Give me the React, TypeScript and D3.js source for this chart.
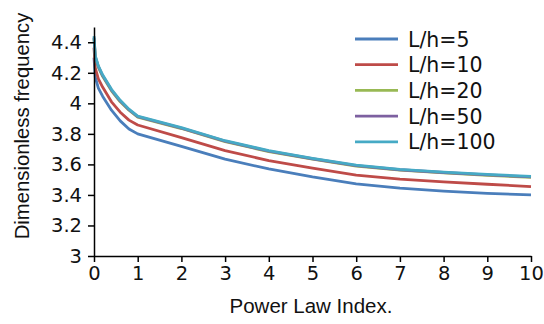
import React, { useEffect, useRef } from 'react';
import * as d3 from 'd3';

// power law index sample points
const xs = [0, 0.03, 0.1, 0.2, 0.4, 0.6, 0.8, 1, 2, 3, 4, 5, 6, 7, 8, 9, 10];

const lh5 = [4.30, 4.17, 4.10, 4.045, 3.955, 3.885, 3.832, 3.80, 3.718, 3.635, 3.57, 3.518, 3.473, 3.444, 3.425, 3.41, 3.40];
const lh10 = [4.365, 4.23, 4.16, 4.105, 4.01, 3.942, 3.89, 3.858, 3.775, 3.69, 3.625, 3.575, 3.53, 3.503, 3.485, 3.47, 3.455];
const lh20 = [4.425, 4.30, 4.235, 4.175, 4.082, 4.01, 3.955, 3.91, 3.835, 3.749, 3.684, 3.634, 3.589, 3.562, 3.544, 3.529, 3.515];
const lh50 = [4.43, 4.305, 4.24, 4.18, 4.087, 4.015, 3.958, 3.913, 3.838, 3.752, 3.687, 3.637, 3.592, 3.565, 3.547, 3.532, 3.518];
const lh100 = [4.44, 4.31, 4.245, 4.185, 4.092, 4.02, 3.962, 3.916, 3.841, 3.755, 3.69, 3.64, 3.595, 3.568, 3.55, 3.535, 3.521];

const seriesNames = ['L/h=5', 'L/h=10', 'L/h=20', 'L/h=50', 'L/h=100'];
const seriesValues = [lh5, lh10, lh20, lh50, lh100];
const colors = ['#4a7ebb', '#be4b48', '#98b954', '#7d60a0', '#46aac5'];

const xTicks = [0, 1, 2, 3, 4, 5, 6, 7, 8, 9, 10];
const yTicks = [3, 3.2, 3.4, 3.6, 3.8, 4, 4.2, 4.4];

const W = 544;
const H = 324;

const App: React.FC = () => {
  const svgRef = useRef<SVGSVGElement>(null);

  useEffect(() => {
    const svg = d3.select(svgRef.current);
    svg.selectAll('*').remove();

    const x = d3.scaleLinear().domain([0, 10]).range([94, 531]);
    const y = d3.scaleLinear().domain([3, 4.5]).range([256, 27]);

    const tickFont = '"DejaVu Sans", sans-serif';
    const labelFont = '"Liberation Sans", Arial, sans-serif';

    // lines
    const line = d3.line<number>()
      .x((_, i) => x(xs[i]))
      .y(d => y(d))
      .curve(d3.curveLinear);

    seriesValues.forEach((vals, i) => {
      svg.append('path')
        .datum(vals)
        .attr('d', line)
        .attr('fill', 'none')
        .attr('stroke', colors[i])
        .attr('stroke-width', 2.8)
        .attr('stroke-linejoin', 'round');
    });

    // x axis
    const xAxis = svg.append('g')
      .attr('transform', `translate(0,${y(3)})`)
      .call(d3.axisBottom(x).tickValues(xTicks).tickSize(6).tickSizeOuter(0).tickPadding(4));
    xAxis.select('.domain').attr('stroke', '#000').attr('stroke-width', 1.5);
    xAxis.selectAll('.tick line').attr('stroke', '#000').attr('stroke-width', 1.5);
    xAxis.selectAll('.tick text')
      .attr('fill', '#111')
      .style('font-family', tickFont)
      .style('font-size', '19.5px');

    // y axis
    const yAxis = svg.append('g')
      .attr('transform', `translate(${x(0)},0)`)
      .call(d3.axisLeft(y).tickValues(yTicks).tickSize(6).tickSizeOuter(0).tickPadding(6)
        .tickFormat(d => String(d)));
    yAxis.select('.domain').attr('stroke', '#000').attr('stroke-width', 1.5);
    yAxis.selectAll('.tick line').attr('stroke', '#000').attr('stroke-width', 1.5);
    yAxis.selectAll('.tick text')
      .attr('fill', '#111')
      .style('font-family', tickFont)
      .style('font-size', '19.5px');

    // axis titles
    svg.append('text')
      .attr('x', 311)
      .attr('y', 313)
      .attr('text-anchor', 'middle')
      .style('font-family', labelFont)
      .style('font-size', '20.5px')
      .attr('fill', '#111')
      .text('Power Law Index.');

    svg.append('text')
      .attr('transform', 'translate(29,126) rotate(-90)')
      .attr('text-anchor', 'middle')
      .style('font-family', labelFont)
      .style('font-size', '20.3px')
      .attr('fill', '#111')
      .text('Dimensionless frequency');

    // legend
    const legend = svg.append('g').attr('transform', 'translate(355,39)');
    seriesNames.forEach((name, i) => {
      const row = legend.append('g').attr('transform', `translate(0,${i * 25.7})`);
      row.append('line')
        .attr('x1', 0).attr('x2', 43)
        .attr('y1', 0).attr('y2', 0)
        .attr('stroke', colors[i])
        .attr('stroke-width', 2.8);
      row.append('text')
        .attr('x', 53)
        .attr('y', 7.5)
        .style('font-family', tickFont)
        .style('font-size', '20.5px')
        .attr('fill', '#111')
        .text(name);
    });
  }, []);

  return (
    <svg
      ref={svgRef}
      width={W}
      height={H}
      style={{ position: 'absolute', left: 0, top: 0, background: '#fff', display: 'block' }}
    />
  );
};

export default App;
